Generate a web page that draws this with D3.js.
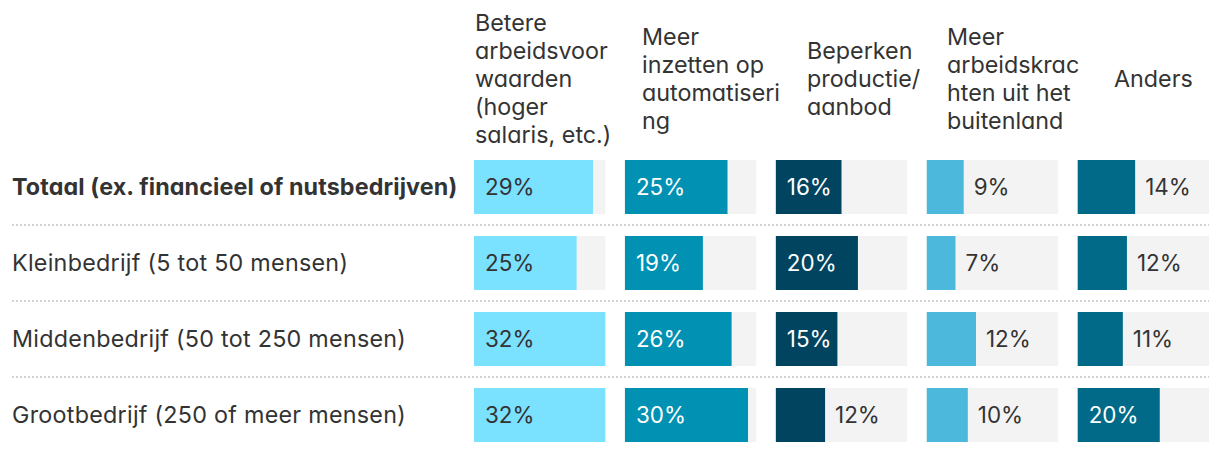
<!DOCTYPE html>
<html>
<head>
<meta charset="utf-8">
<script src="https://cdn.jsdelivr.net/npm/d3@7"></script>
<style>
  html, body { margin: 0; padding: 0; background: #ffffff; }
  svg { display: block; font-family: Inter, "Noto Sans", sans-serif; font-feature-settings: "cv11" 1; }
</style>
</head>
<body>
<svg id="chart" width="1220" height="452"></svg>
<script>
// ---- data ----
const categories = [
  "Totaal (ex. financieel of nutsbedrijven)",
  "Kleinbedrijf (5 tot 50 mensen)",
  "Middenbedrijf (50 tot 250 mensen)",
  "Grootbedrijf (250 of meer mensen)"
];
const seriesNames = [
  "Betere arbeidsvoorwaarden (hoger salaris, etc.)",
  "Meer inzetten op automatisering",
  "Beperken productie/aanbod",
  "Meer arbeidskrachten uit het buitenland",
  "Anders"
];
const headerLines = [
  ["Betere", "arbeidsvoor", "waarden", "(hoger", "salaris, etc.)"],
  ["Meer", "inzetten op", "automatiseri", "ng"],
  ["Beperken", "productie/", "aanbod"],
  ["Meer", "arbeidskrac", "hten uit het", "buitenland"],
  ["Anders"]
];
const betere        = [29, 25, 32, 32];
const automatisering = [25, 19, 26, 30];
const beperken      = [16, 20, 15, 12];
const buitenland    = [9, 7, 12, 10];
const anders        = [14, 12, 11, 20];
const seriesValues = [betere, automatisering, beperken, buitenland, anders];
const seriesColors = ["#7ae1ff", "#0091b3", "#00445f", "#4bb8dc", "#006a88"];
const insideTextColors = ["#333333", "#ffffff", "#ffffff", "#ffffff", "#ffffff"];

// ---- layout ----
const svg = d3.select("#chart");
const textColor = "#333333";
const labelSize = 23.3;
const headerSize = 23.3;
const valueSize = 22.4;

const colScale = d3.scaleBand().domain(d3.range(seriesNames.length)).range([474, 1209]).paddingInner(0.13);
const rowScale = d3.scaleBand().domain(d3.range(categories.length)).range([160, 442]).paddingInner(22 / 76);
const barH = rowScale.bandwidth();
const x = d3.scaleLinear().domain([0, 32]).range([0, colScale.bandwidth()]);
const headerX = [475, 642, 807, 947, 1114];

// separators
svg.append("g").selectAll("line")
  .data(d3.range(categories.length - 1))
  .join("line")
  .attr("x1", 12).attr("x2", 1209)
  .attr("y1", i => rowScale(i) + barH + (rowScale.step() - barH) / 2)
  .attr("y2", i => rowScale(i) + barH + (rowScale.step() - barH) / 2)
  .attr("stroke", "#d2d2d2").attr("stroke-width", 2).attr("stroke-dasharray", "2,2");

// row labels
svg.append("g").selectAll("text")
  .data(categories)
  .join("text")
  .attr("x", 12)
  .attr("y", (d, i) => rowScale(i) + barH / 2)
  .attr("dy", "0.36em")
  .attr("font-size", labelSize)
  .attr("font-weight", (d, i) => i === 0 ? 700 : 400)
  .attr("letter-spacing", (d, i) => i === 0 ? 0.12 : 0.27)
  .attr("fill", textColor)
  .text(d => d);

// headers
const hdr = svg.append("g");
headerLines.forEach((lines, c) => {
  const lh = 28, cy = 79;
  const t = hdr.append("text")
    .attr("font-size", headerSize).attr("fill", textColor);
  lines.forEach((ln, k) => {
    t.append("tspan")
      .attr("x", headerX[c])
      .attr("y", cy + (k - (lines.length - 1) / 2) * lh)
      .attr("dy", "0.36em")
      .text(ln);
  });
});

// columns
seriesValues.forEach((vals, c) => {
  const g = svg.append("g").attr("transform", `translate(${colScale(c)},0)`);
  g.selectAll("rect.bg").data(vals).join("rect").attr("class", "bg")
    .attr("x", 0).attr("y", (d, i) => rowScale(i))
    .attr("width", colScale.bandwidth()).attr("height", barH)
    .attr("fill", "#f3f3f3");
  g.selectAll("rect.bar").data(vals).join("rect").attr("class", "bar")
    .attr("x", 0).attr("y", (d, i) => rowScale(i))
    .attr("width", d => x(d)).attr("height", barH)
    .attr("fill", seriesColors[c]);
  g.selectAll("text").data(vals).join("text")
    .attr("x", d => d >= 15 ? 11 : x(d) + 10)
    .attr("y", (d, i) => rowScale(i) + barH / 2)
    .attr("dy", "0.36em")
    .attr("font-size", valueSize)
    .attr("fill", d => d >= 15 ? insideTextColors[c] : textColor)
    .text(d => d + "%");
});
</script>
</body>
</html>
